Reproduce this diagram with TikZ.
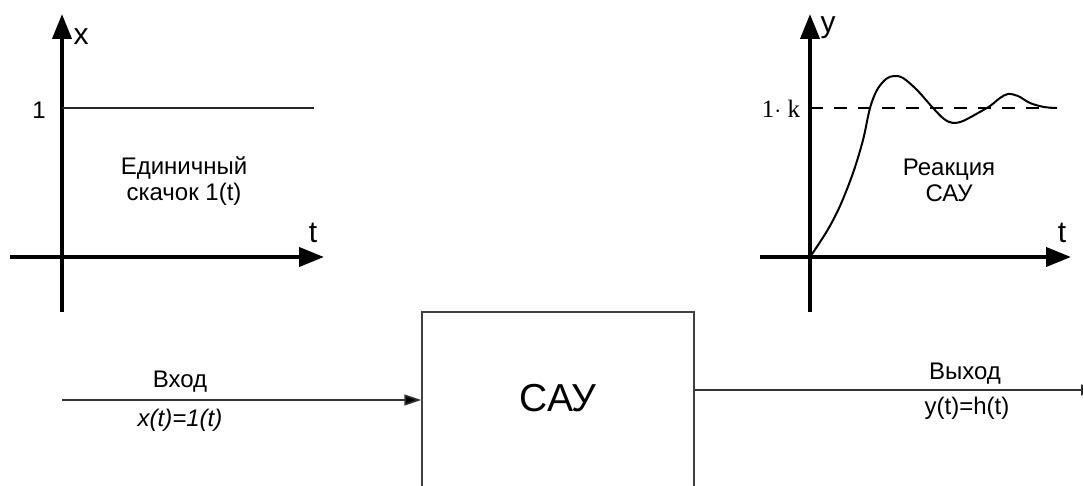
\documentclass[tikz,border=0pt]{standalone}
\usepackage{fontspec}
\setmainfont{Liberation Sans}
\newfontfamily\serifk{Liberation Serif}
\usetikzlibrary{arrows.meta}
\tikzset{
  axis/.style={line width=4pt, -{Triangle[length=25pt,width=19pt]}},
  axisline/.style={line width=4pt},
  thinline/.style={line width=1.8pt, draw=black!85},
  sig/.style={line width=1.6pt, draw=black!80, -{Triangle[length=17pt,width=11pt,fill=black]}},
  lbl/.style={font=\fontsize{24}{28}\selectfont, inner sep=0pt, align=center},
  axlbl/.style={font=\fontsize{30}{32}\selectfont, inner sep=0pt},
  boxst/.style={draw=black!75, line width=1.5pt, minimum width=272pt, minimum height=220pt, inner sep=0pt},
}
\begin{document}
\begin{tikzpicture}[x=1pt,y=-1pt]
\useasboundingbox (0,0) rectangle (1083,486);
\clip (0,0) rectangle (1083,486);
% left graph
\coordinate (lo) at (62,257);
\coordinate (lytop) at (62,14);
\coordinate (lybot) at (62,312);
\coordinate (lxl) at (10,257);
\coordinate (lxr) at (324,257);
\draw[axisline] (lo) -- (lybot);
\draw[axis] (lo) -- (lytop);
\draw[axis] (lxl) -- (lxr);
\coordinate (s0) at (62,108);
\coordinate (s1) at (314,108);
\draw[thinline] (s0) -- (s1);
\node[axlbl] (lx) at (81,37) {x};
\node[axlbl] (lt) at (313,233) {t};
\node[lbl] (l1) at (39,110) {1};
\node[lbl] (lstep) at (184,181) {Единичный\\[-2pt]скачок 1(t)};
% right graph
\coordinate (ro) at (810,257);
\coordinate (rytop) at (810,14);
\coordinate (rybot) at (810,312);
\coordinate (rxl) at (760,257);
\coordinate (rxr) at (1071,257);
\draw[axisline] (ro) -- (rybot);
\draw[axis] (ro) -- (rytop);
\draw[axis] (rxl) -- (rxr);
\coordinate (d0) at (810,108);
\coordinate (d1) at (1057,108);
\draw[line width=1.2pt, dash pattern=on 13pt off 11pt] (d0) -- (d1);
\node[axlbl] (ry) at (828,28) {y};
\node[axlbl] (rt) at (1062,233) {t};
\node[font=\serifk\fontsize{25}{28}\selectfont, inner sep=0pt] (rk) at (781,109) {1$\cdot$ k};
\node[lbl] (rreact) at (949,180) {Реакция\\[-2pt]САУ};
\draw[line width=2pt, line join=round] plot[smooth, tension=0.55] coordinates {
 (810,257) (827,231) (840,206) (853,173) (863,140) (870,108) (877,90) (886,79) (894,76)
 (903,78) (917,90) (933,108) (944,119) (953,123) (963,121) (978,113) (990,106)
 (1000,98) (1008,94) (1018,96) (1030,103) (1044,107) (1057,108)};
% block
\node[boxst] (sau) at (558,422) {};
\node[font=\fontsize{39}{42}\selectfont, inner sep=0pt] (sautxt) at (558,398) {САУ};
\coordinate (in0) at (62,400);
\coordinate (out1) at (1098,390);
\draw[sig] (in0) -- (sau.west |- in0);
\draw[sig] (sau.east |- out1) -- (out1);
\node[lbl] (vin) at (180,382) {Вход};
\node[lbl, font=\fontsize{24}{28}\selectfont\itshape] (xin) at (180,420) {x(t)=1(t)};
\node[lbl] (vout) at (965,374) {Выход};
\node[lbl] (yout) at (967,408) {y(t)=h(t)};
\end{tikzpicture}
\end{document}
